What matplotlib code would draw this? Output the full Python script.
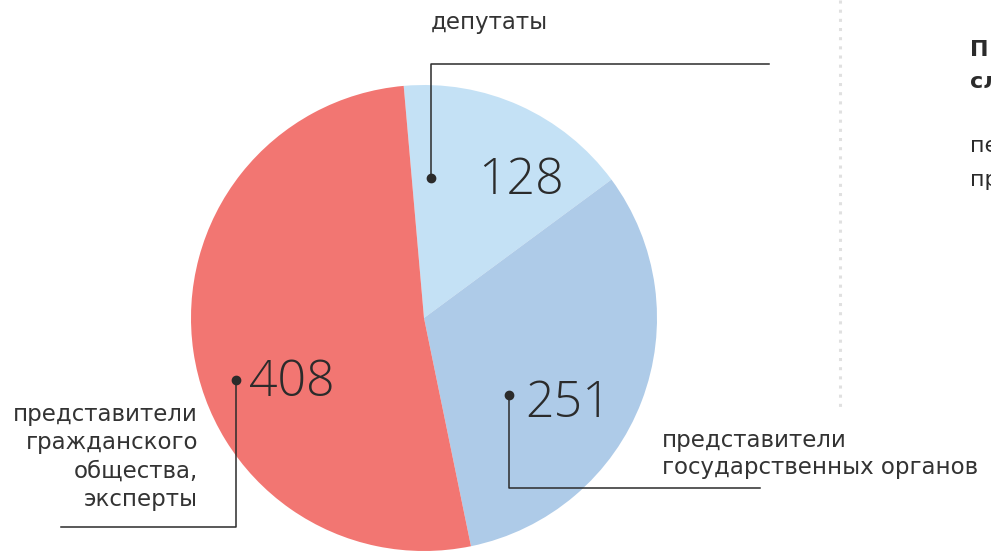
import matplotlib
matplotlib.use("Agg")
import matplotlib.pyplot as plt

plt.rcParams['font.family'] = ['DejaVu Sans']

# состав участников
groups = ["депутаты", "представители\nгосударственных органов",
          "представители\nгражданского\nобщества,\nэксперты"]
counts = [128, 251, 408]
colors = ["#c4e1f5", "#aecbe8", "#f27672"]

W, H = 991, 551
fig = plt.figure(figsize=(W / 100, H / 100), dpi=100)
ax = fig.add_axes([0, 0, 1, 1])

cx, cy, r = 424, H - 318, 233
ax.pie(counts, colors=colors, startangle=95, counterclock=False,
       center=(cx, cy), radius=r, frame=True,
       wedgeprops=dict(linewidth=0))
ax.set_xlim(0, W)
ax.set_ylim(0, H)
ax.set_aspect("equal")
ax.axis("off")

ink = "#2b2b2b"
lw = 1.1
num_font = dict(fontsize=36, color=ink, family=["Open Sans", "DejaVu Sans"],
                fontweight="light", va="center", ha="left")
lab_font = dict(fontsize=16.5, color="#333333", va="center")

def y(v):
    return H - v

# выноски: точка, ломаная линия, число
# депутаты
ax.plot([431, 431, 769], [y(178), y(64), y(64)], color=ink, lw=lw)
ax.plot(431, y(178), "o", color=ink, ms=6)
ax.text(478, y(181), str(counts[0]), **num_font)
ax.text(489, y(22), groups[0], ha="center", **lab_font)

# госорганы
ax.plot([509, 509, 760], [y(395), y(488), y(488)], color=ink, lw=lw)
ax.plot(509, y(395), "o", color=ink, ms=6)
ax.text(525, y(404), str(counts[1]), **num_font)
ax.text(662, y(454), groups[1], ha="left", linespacing=1.22, **lab_font)

# гражданское общество
ax.plot([236, 236, 61], [y(380), y(527), y(527)], color=ink, lw=lw)
ax.plot(236, y(380), "o", color=ink, ms=6)
ax.text(249, y(383), str(counts[2]), **num_font)
ax.text(198, y(457), groups[2], ha="right", linespacing=1.28, **lab_font)

# разделитель справа
ax.plot([840, 840], [y(0), y(410)], color="#e0e0e0", lw=2.2,
        linestyle=(0, (1, 2)))

# боковой текст
side = dict(fontsize=16, color=ink, va="center", ha="left")
ax.text(970, y(50), "П", fontweight="bold", **side)
ax.text(970, y(82), "сл", fontweight="bold", **side)
ax.text(970, y(146), "пе", **side)
ax.text(970, y(180), "пр", **side)

fig.savefig("out.png", dpi=100)
